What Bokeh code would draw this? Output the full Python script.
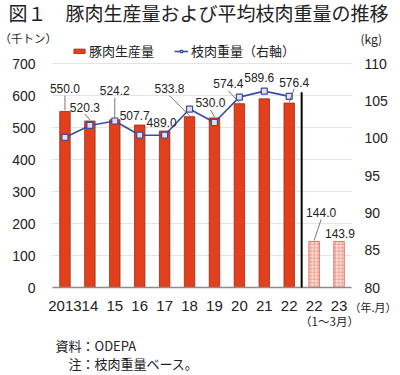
from bokeh.plotting import figure
from bokeh.models import (Range1d, Label, LabelSet, ColumnDataSource, Legend, LegendItem)
from bokeh.embed import file_html
from bokeh.resources import INLINE
from bokeh.core.properties import value

# ---------------- data ----------------
categories = ["2013", "14", "15", "16", "17", "18", "19", "20", "21", "22", "22", "23"]
production = [550.0, 520.3, 524.2, 507.7, 489.0, 533.8, 530.0, 574.4, 589.6, 576.4, 144.0, 143.9]
carcass_weight = [100.1, 101.7, 102.3, 100.4, 100.4, 103.9, 102.1, 105.5, 106.3, 105.6]
n_annual = 10
left_ticks = [0, 100, 200, 300, 400, 500, 600, 700]
right_ticks = [80, 85, 90, 95, 100, 105, 110]

title_text = "図１　豚肉生産量および平均枝肉重量の推移"
left_unit = "（千トン）"
right_unit = "(kg)"
x_unit = "（年.月）"
period_note = "（1～3月）"
source_note = "資料：ODEPA"
note_text = "注：枝肉重量ベース。"
series_names = ["豚肉生産量", "枝肉重量（右軸）"]

# value-label placement (screen px relative to bar top; up positive)
label_dx = [0, -5, 0, -5, -3, -20, -4, -11, -5, 5, 7, 1]
label_up = [23, 14, 29, 10, 8.5, 28, 15, 20, 21, 21, 29, 8]
leader = [1, 1, 1, 0, 0, 1, 1, 1, 0, 1, 1, 0]

# ---------------- layout ----------------
W, H = 400, 375
PL, PR, PT, PB = 52, 351, 63, 287   # plotting area inside the canvas (px)
JP = "Noto Sans CJK JP"
NUM = "Liberation Sans"
RED = "#E2401C"
DARKRED = "#9A2C12"
BLUE = "#3A4DA0"
TXT = "#222222"

xs = list(range(len(categories)))
x0, x1 = -0.5, len(categories) - 0.5
y0, y1 = left_ticks[0], left_ticks[-1]
k0, k1 = right_ticks[0], right_ticks[-1]
ux = (x1 - x0) / (PR - PL)
uy = (y1 - y0) / (PB - PT)
uk = (k1 - k0) / (PB - PT)

p = figure(width=W, height=H, output_backend="svg", toolbar_location=None,
           x_range=Range1d(x0 - PL * ux, x1 + (W - PR) * ux),
           y_range=Range1d(y0 - (H - PB) * uy, y1 + PT * uy),
           x_axis_location=None, y_axis_location=None,
           min_border=0, min_border_left=0, min_border_right=0,
           min_border_top=0, min_border_bottom=0)
p.title.visible = False
p.outline_line_color = None
p.grid.visible = False
p.background_fill_color = "white"
p.border_fill_color = "white"
p.extra_y_ranges = {"kg": Range1d(k0 - (H - PB) * uk, k1 + PT * uk)}

# horizontal grid lines at the left-axis ticks
p.segment(x0=[x0] * len(left_ticks), x1=[x1] * len(left_ticks), y0=left_ticks, y1=left_ticks,
          line_color="#E4E4E4", line_width=1)

# bars
src_a = ColumnDataSource(dict(x=xs[:n_annual], top=production[:n_annual]))
src_q = ColumnDataSource(dict(x=xs[n_annual:], top=production[n_annual:]))
bars = p.vbar(x="x", top="top", width=0.42, source=src_a,
              fill_color=RED, line_color=DARKRED, line_width=0.8)
p.vbar(x="x", top="top", width=0.42, source=src_q,
       fill_color="#FBE0DA", line_color="#D9553A", line_width=0.8,
       hatch_pattern="+", hatch_color="#E8806C", hatch_scale=3.5, hatch_weight=0.6)

# baseline (x axis line)
p.segment(x0=[x0], x1=[x1], y0=[y0], y1=[y0], line_color="#8C8C8C", line_width=1.5)

# separator between annual and quarterly data
sep_x = n_annual - 0.5
p.segment(x0=[sep_x], y0=[y0], x1=[sep_x], y1=[610], line_color="black", line_width=2)

# carcass weight line (right axis)
wsrc = ColumnDataSource(dict(x=xs[:n_annual], y=carcass_weight))
wline = p.line(x="x", y="y", source=wsrc, y_range_name="kg", line_color=BLUE, line_width=1.6)
wmark = p.scatter(x="x", y="y", source=wsrc, y_range_name="kg", marker="square", size=6,
                  fill_color="#E8DEEC", line_color=BLUE, line_width=1.2)

# leader lines
lx0, ly0, lx1, ly1 = [], [], [], []
for i, v in enumerate(production):
    if leader[i]:
        lx0.append(xs[i])
        ly0.append(v + 1 * uy)
        lx1.append(xs[i] + label_dx[i] * ux)
        ly1.append(v + (label_up[i] - 7) * uy)
p.segment(x0=lx0, y0=ly0, x1=lx1, y1=ly1, line_color="#555555", line_width=0.8)

# value labels
lsrc = ColumnDataSource(dict(x=xs, y=production, text=[f"{v:.1f}" for v in production],
                             dx=label_dx, dy=label_up))
p.add_layout(LabelSet(x="x", y="y", text="text", x_offset="dx", y_offset="dy", source=lsrc,
                      text_font=value(NUM), text_font_size="12px", text_color=TXT,
                      text_align="center", text_baseline="middle"))

# tick labels (placed through the scales)
p.text(x=[x0] * len(left_ticks), y=left_ticks, text=[str(t) for t in left_ticks],
       x_offset=-17, text_align="right", text_baseline="middle",
       text_font=value(NUM), text_font_size="14px", text_color=TXT)
p.text(x=[x1] * len(right_ticks), y=right_ticks, text=[str(t) for t in right_ticks],
       y_range_name="kg", x_offset=13, text_align="left", text_baseline="middle",
       text_font=value(NUM), text_font_size="14px", text_color=TXT)
p.text(x=xs, y=[y0] * len(xs), text=categories, y_offset=18,
       text_align="center", text_baseline="middle",
       text_font=value(NUM), text_font_size="15px", text_color=TXT)


def canvas_label(text, cx, cy, size, align="left", font=JP):
    p.add_layout(Label(x=cx, y=H - cy, x_units="screen", y_units="screen", text=text,
                       text_font=font, text_font_size=size, text_color=TXT,
                       text_align=align, text_baseline="middle"))


canvas_label(title_text, 8, 12, "19px")
canvas_label(left_unit, -1, 37, "11.5px")
canvas_label(right_unit, 360, 38, "12px")
canvas_label(x_unit, 349, 306, "11px")
canvas_label(period_note, 329, 320, "11.5px", align="center")
canvas_label(source_note, 55, 345, "13px")
canvas_label(note_text, 68, 363, "13px")

# series legend
legend = Legend(items=[LegendItem(label=series_names[0], renderers=[bars]),
                       LegendItem(label=series_names[1], renderers=[wline, wmark])],
                orientation="horizontal", location=(72, H - 60),
                label_text_font=JP, label_text_font_size="13px", label_text_color=TXT,
                glyph_width=14, glyph_height=6, label_height=14, label_standoff=3,
                spacing=20, padding=0, margin=0,
                background_fill_alpha=0, border_line_color=None)
p.add_layout(legend, "center")

open("out.html", "w").write(file_html(p, INLINE))
